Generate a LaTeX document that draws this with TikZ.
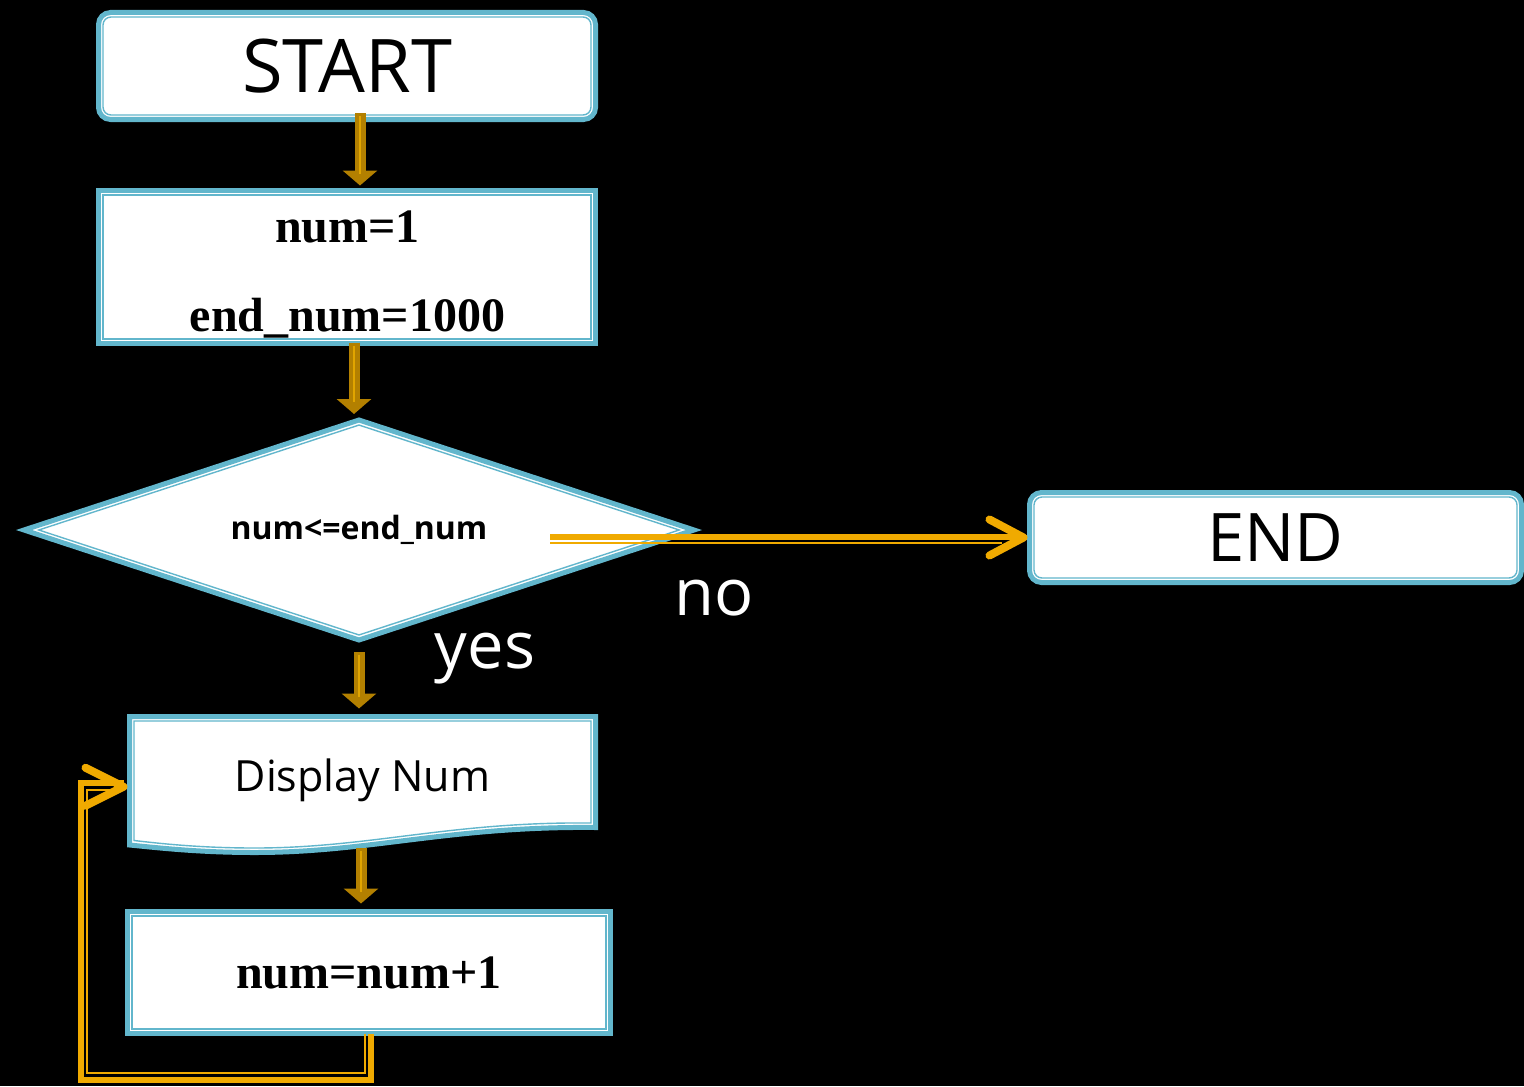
\documentclass[tikz,border=0pt]{standalone}
\usepackage{fontspec}
\setmainfont{Open Sans}
\newfontfamily\tnr{Liberation Serif}
\usetikzlibrary{arrows.meta,shapes.geometric}
\definecolor{boxblue}{RGB}{98,182,204}
\definecolor{gold}{RGB}{179,128,0}
\definecolor{goldhl}{RGB}{225,165,0}
\definecolor{orng}{RGB}{240,170,0}
\tikzset{
  box/.style={draw=boxblue, line width=2.5pt, fill=white, inner sep=0pt, outer sep=0pt},
  innerln/.style={draw=boxblue, line width=0.7pt},
  blk/.style={draw=gold, line width=5.5pt, -{Triangle[width=17pt,length=7.5pt]}},
  blkhl/.style={draw=goldhl, line width=0.6pt, shorten >=6pt},
  orln/.style={draw=orng, line width=3pt},
  orthin/.style={draw=orng, line width=1pt},
  chev/.style={draw=orng, line width=4pt, line cap=round, line join=round},
  bigsans/.style={font=\fontsize{37pt}{40pt}\selectfont},
  serifbold/.style={font=\tnr\bfseries\fontsize{24pt}{28pt}\selectfont},
  lbl/.style={text=white, font=\fontsize{32.5pt}{36pt}\selectfont, inner sep=0pt}
}
\begin{document}
\begin{tikzpicture}[x=0.5pt,y=-0.5pt]
\useasboundingbox (0,0) rectangle (1524,1086);
\fill[black] (0,0) rectangle (1524,1086);

% START
\node[box, rounded corners=6pt, minimum width=248.5pt, minimum height=53.5pt, bigsans] (start) at (347,66) {START};
\draw[innerln, rounded corners=4pt] ([shift={(4.5,4.5)}]start.north west) rectangle ([shift={(-4.5,-4.5)}]start.south east);

% init
\node[box, minimum width=248.5pt, minimum height=76.5pt] (init) at (347,267) {};
\draw[innerln] ([shift={(4.5,4.5)}]init.north west) rectangle ([shift={(-4.5,-4.5)}]init.south east);
\node[serifbold, anchor=base, inner sep=0pt] (t1) at (347.5,242) {num=1};
\node[serifbold, anchor=base, inner sep=0pt] (t2) at (347.5,331) {end\_num=1000};

% decision
\node[box, diamond, aspect=3.05, minimum width=335pt, minimum height=110pt, font=\bfseries\fontsize{16pt}{18pt}\selectfont] (dec) at (359,530) {num<=end\_num};
\node[innerln, diamond, aspect=3.05, inner sep=0pt, minimum width=320.5pt, minimum height=105.25pt] (decin) at (359,530) {};

% END
\node[box, rounded corners=6pt, minimum width=246pt, minimum height=45pt, font=\fontsize{33.5pt}{36pt}\selectfont] (end) at (1275.5,537.5) {END};
\draw[innerln, rounded corners=4pt] ([shift={(4.5,4.5)}]end.north west) rectangle ([shift={(-4.5,-4.5)}]end.south east);

% Display (document shape)
\path[box] (129.5,716.5) -- (595.5,716.5) -- (595.5,827.5) .. controls (450,826) and (370,852.5) .. (255,852.5) .. controls (200,852.5) and (160,848) .. (129.5,845) -- cycle;
\draw[innerln] (134,721) -- (591,721) -- (591,823) .. controls (450,821.5) and (370,848) .. (255,848) .. controls (200,848) and (160,843.5) .. (134,840.5) -- cycle;
\node[inner sep=0pt, outer sep=0pt, minimum width=233pt, minimum height=64.25pt, font=\fontsize{21.5pt}{26pt}\selectfont] (disp) at (362.5,780.75) {Display Num};

% num=num+1
\node[box, minimum width=241.5pt, minimum height=61pt, serifbold] (inc) at (369,972.5) {num=num+1};
\draw[innerln] ([shift={(4.5,4.5)}]inc.north west) rectangle ([shift={(-4.5,-4.5)}]inc.south east);

% block arrows
\draw[blk] ([shift={(13,-6)}]start.south) -- ([shift={(13,-5)}]init.north);
\draw[blkhl] ([shift={(13,-3)}]start.south) -- ([shift={(13,-5)}]init.north);
\draw[blk] ([shift={(7,-1)}]init.south) -- ([shift={(-5,-6)}]dec.north);
\draw[blkhl] ([shift={(7,2)}]init.south) -- ([shift={(-5,-6)}]dec.north);
\draw[blk] ([shift={(0,12)}]dec.south) -- ([shift={(-3.5,-8)}]disp.north);
\draw[blkhl] ([shift={(0,15)}]dec.south) -- ([shift={(-3.5,-8)}]disp.north);
\draw[blk] ([shift={(-1.5,3)}]disp.south) -- ([shift={(-8,-8)}]inc.north);
\draw[blkhl] ([shift={(-1.5,6)}]disp.south) -- ([shift={(-8,-8)}]inc.north);

% no connector
\coordinate (nostart) at (550,536.5);
\coordinate (nostart2) at (550,543);
\draw[orln, shorten >=6] (nostart) -- (nostart -| end.west);
\draw[orthin, shorten >=14] (nostart2) -- (nostart2 -| end.west);
\draw[chev] ([shift={(-40,-18)}]end.west) -- ([shift={(-6,0)}]end.west) -- ([shift={(-40,18)}]end.west);

% loop connector
\coordinate (loopbl) at (81,1080);
\coordinate (loopbl2) at (87,1073);
\draw[orln, line join=miter] ([shift={(2,0)}]inc.south) |- (loopbl) |- ([shift={(-6,2)}]disp.west);
\draw[orthin] ([shift={(-4,0)}]inc.south) |- (loopbl2) |- ([shift={(-8,9)}]disp.west);
\draw[chev] ([shift={(-44,-13)}]disp.west) -- ([shift={(-6,6)}]disp.west) -- ([shift={(-44,25)}]disp.west);

% labels
\node[lbl] (nolbl) at (714,598) {no};
\node[lbl] (yeslbl) at (485,659) {yes};
\end{tikzpicture}
\end{document}
